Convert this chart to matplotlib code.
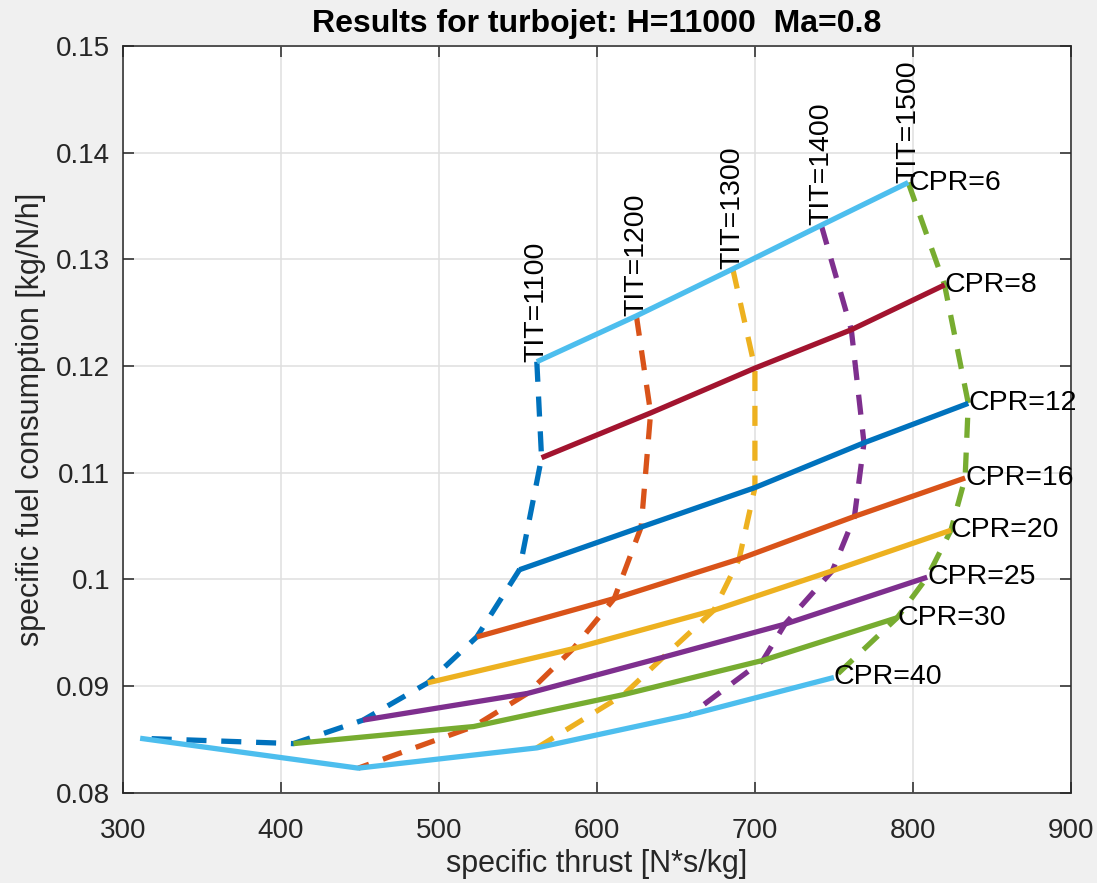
import matplotlib
matplotlib.use('Agg')
import matplotlib.pyplot as plt
from cycler import cycler

plt.rcParams['font.family'] = ['Liberation Sans', 'DejaVu Sans']

#%% Data: rows = CPR, columns = TIT
cpr = [6, 8, 12, 16, 20, 25, 30, 40]
tit = [1100, 1200, 1300, 1400, 1500]

thrust = [[562, 625, 686, 742, 797],
          [565, 634, 700, 761, 820],
          [551, 628, 700, 769, 835],
          [524, 611, 690, 763, 833],
          [493, 585, 674, 749, 824],
          [452, 556, 642, 719, 809],
          [408, 522, 617, 705, 790],
          [311, 449, 562, 659, 750]]

sfc = [[0.1204, 0.1247, 0.1291, 0.1332, 0.1372],
       [0.1114, 0.1156, 0.1198, 0.1234, 0.1276],
       [0.1009, 0.1049, 0.1086, 0.1128, 0.1165],
       [0.0946, 0.0982, 0.1019, 0.1059, 0.1095],
       [0.0903, 0.0935, 0.0971, 0.1008, 0.1046],
       [0.0868, 0.0893, 0.0927, 0.0958, 0.1002],
       [0.0846, 0.0862, 0.0892, 0.0924, 0.0964],
       [0.0851, 0.0823, 0.0842, 0.0873, 0.0908]]

x_ticks = [300, 400, 500, 600, 700, 800, 900]
y_ticks = [0.08, 0.09, 0.1, 0.11, 0.12, 0.13, 0.14, 0.15]
y_ticklabels = ['0.08', '0.09', '0.1', '0.11', '0.12', '0.13', '0.14', '0.15']

matlab_colors = ['#0072BD', '#D95319', '#EDB120', '#7E2F8E',
                 '#77AC30', '#4DBEEE', '#A2142F']

#%% Plot
fig = plt.figure(figsize=(10.97, 8.83), dpi=100, facecolor='#F0F0F0')
ax = fig.add_axes([0.1119, 0.1023, 0.8644, 0.8456])
ax.set_prop_cycle(cycler(color=matlab_colors))

# constant TIT lines (dashed)
for j in range(len(tit)):
    xs = [thrust[i][j] for i in range(len(cpr))]
    ys = [sfc[i][j] for i in range(len(cpr))]
    ax.plot(xs, ys, linestyle=(0, (3.8, 2.8)), linewidth=3.8, dash_capstyle='butt')
    ax.text(thrust[0][j], sfc[0][j], 'TIT=%d' % tit[j], rotation=90,
            rotation_mode='anchor', ha='left', va='center', fontsize=20.5, color='black')

# constant CPR lines (solid)
for i in range(len(cpr)):
    ax.plot(thrust[i], sfc[i], linewidth=3.8, solid_capstyle='butt')
    ax.text(thrust[i][-1], sfc[i][-1], 'CPR=%d' % cpr[i],
            ha='left', va='center', fontsize=20.5, color='black')

ax.set_xlim(300, 900)
ax.set_ylim(0.08, 0.15)
ax.set_xticks(x_ticks)
ax.set_yticks(y_ticks)
ax.set_yticklabels(y_ticklabels)
ax.grid(True, color='#DFDFDF', linewidth=1.1)
ax.set_axisbelow(True)
ax.tick_params(direction='in', length=8, width=1.1, top=True, right=True,
               labelsize=20, labelcolor='#262626', color='#262626', pad=9)
ax.tick_params(axis='x', pad=18)
for s in ax.spines.values():
    s.set_linewidth(1.1)
    s.set_color('#262626')

ax.set_xlabel('specific thrust [N*s/kg]', fontsize=22, color='#262626', labelpad=4)
ax.set_ylabel('specific fuel consumption [kg/N/h]', fontsize=22, color='#262626', labelpad=7)
ax.set_title('Results for turbojet: H=11000  Ma=0.8', fontsize=23, fontweight='bold', pad=10)

plt.savefig('out.png', dpi=100, facecolor=fig.get_facecolor())
